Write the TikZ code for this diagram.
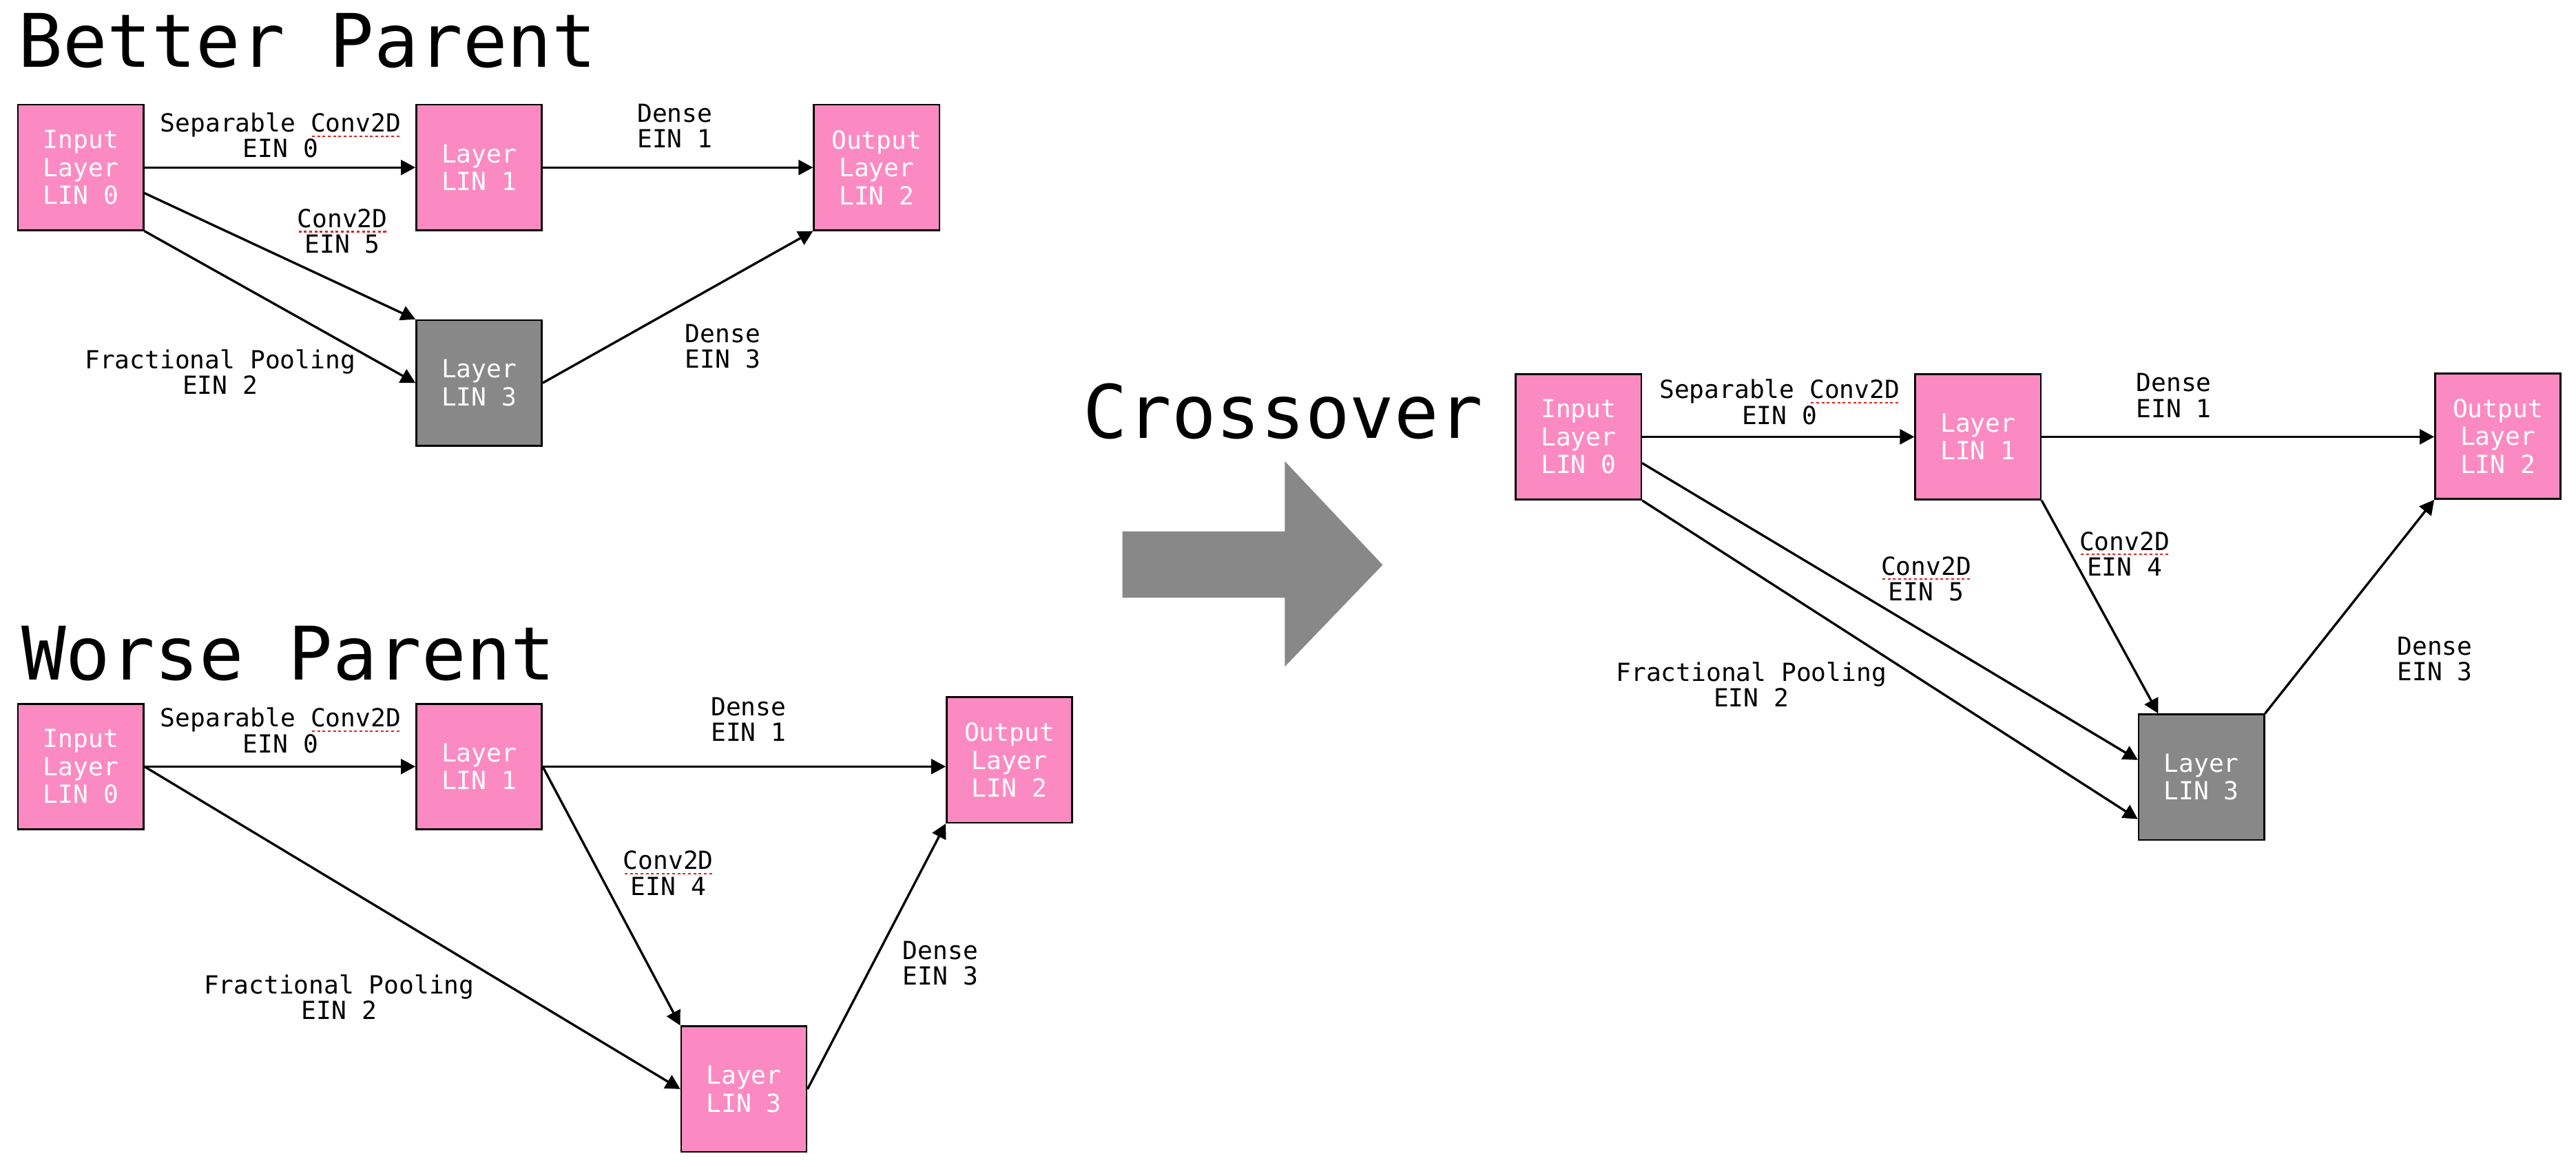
\documentclass[tikz,border=0pt]{standalone}
\usepackage{fontspec}
\setmainfont{DejaVu Sans Mono}
\usepackage{xcolor}
\usetikzlibrary{arrows.meta}
\definecolor{layerpink}{RGB}{252,138,194}
\definecolor{layergray}{RGB}{136,136,136}
\definecolor{spellred}{RGB}{228,32,32}
\newsavebox{\spellbox}
\newcommand{\spellcheck}[1]{\sbox{\spellbox}{#1}%
  \rlap{\raisebox{-2.2pt}{\textcolor{spellred}{\hbox to \wd\spellbox{\xleaders\hbox to 2.2pt{\hss\rule{1.2pt}{0.7pt}\hss}\hfill}}}}%
  \usebox{\spellbox}}
\tikzset{
    layer/.style={draw=black, line width=0.75pt, fill=layerpink, text=white, minimum width=1.91cm, minimum height=1.91cm, inner sep=0pt, align=center, font=\fontsize{10.8}{12.1}\selectfont},
    hidden/.style={layer, fill=layergray},
    lbl/.style={align=center, inner sep=0pt, font=\fontsize{10.8}{11.1}\selectfont},
    conn/.style={-{Triangle[length=6.3pt, width=6.5pt]}, line width=1pt},
    title/.style={anchor=base west, inner sep=0pt, font=\fontsize{32}{38}\selectfont}
}

\begin{document}
\begin{tikzpicture}
    \useasboundingbox (0,0) rectangle (39.20,17.76);

    % better parent
    \node [title] (bpTitle) at (0.27,16.74) {Better Parent};
    \node [layer] (bpIn) at (1.23,15.21) {Input\\Layer\\LIN 0};
    \node [layer] (bpL1) at (7.29,15.21) {Layer\\LIN 1};
    \node [layer] (bpOut) at (13.34,15.21) {Output\\Layer\\LIN 2};
    \node [hidden] (bpL3) at (7.29,11.93) {Layer\\LIN 3};

    \draw [conn] (bpIn.east) -- (bpL1.west);
    \draw [conn] (bpL1.east) -- (bpOut.west);
    \draw [conn] ([yshift=-0.39cm]bpIn.east) -- (bpL3.north west);
    \draw [conn] (bpIn.south east) -- (bpL3.west);
    \draw [conn] (bpL3.east) -- (bpOut.south west);

    \node [lbl] (bpE0) at (4.27,15.70) {Separable \spellcheck{Conv2D}\\EIN 0};
    \node [lbl] (bpE1) at (10.27,15.84) {Dense\\EIN 1};
    \node [lbl] (bpE5) at (5.21,14.24) {\spellcheck{Conv2D}\\EIN 5};
    \node [lbl] (bpE2) at (3.35,12.10) {Fractional Pooling\\EIN 2};
    \node [lbl] (bpE3) at (11.00,12.49) {Dense\\EIN 3};

    % worse parent
    \node [title] (wpTitle) at (0.32,7.41) {Worse Parent};
    \node [layer] (wpIn) at (1.23,6.09) {Input\\Layer\\LIN 0};
    \node [layer] (wpL1) at (7.29,6.09) {Layer\\LIN 1};
    \node [layer] (wpOut) at (15.36,6.19) {Output\\Layer\\LIN 2};
    \node [layer] (wpL3) at (11.32,1.18) {Layer\\LIN 3};

    \draw [conn] (wpIn.east) -- (wpL1.west);
    \draw [conn] (wpL1.east) -- (wpL1.east -| wpOut.west);
    \draw [conn] (wpIn.east) -- (wpL3.west);
    \draw [conn] (wpL1.east) -- (wpL3.north west);
    \draw [conn] (wpL3.east) -- (wpOut.south west);

    \node [lbl] (wpE0) at (4.27,6.64) {Separable \spellcheck{Conv2D}\\EIN 0};
    \node [lbl] (wpE1) at (11.39,6.81) {Dense\\EIN 1};
    \node [lbl] (wpE4) at (10.17,4.47) {\spellcheck{Conv2D}\\EIN 4};
    \node [lbl] (wpE2) at (5.16,2.58) {Fractional Pooling\\EIN 2};
    \node [lbl] (wpE3) at (14.31,3.10) {Dense\\EIN 3};

    % crossover
    \node [title] (cxTitle) at (16.47,11.09) {Crossover};
    \fill [layergray] (17.08,9.67) -- (19.55,9.67) -- (19.55,10.74) -- (21.04,9.16)
        -- (19.55,7.61) -- (19.55,8.66) -- (17.08,8.66) -- cycle;

    \node [layer] (cxIn) at (24.02,11.11) {Input\\Layer\\LIN 0};
    \node [layer] (cxL1) at (30.10,11.11) {Layer\\LIN 1};
    \node [hidden] (cxL3) at (33.50,5.93) {Layer\\LIN 3};
    \node [layer] (cxOut) at (38.01,11.12) {Output\\Layer\\LIN 2};

    \draw [conn] (cxIn.east) -- (cxL1.west);
    \draw [conn] (cxL1.east) -- (cxL1.east -| cxOut.west);
    \draw [conn] ([yshift=-0.40cm]cxIn.east) -- ([yshift=0.26cm]cxL3.west);
    \draw [conn] (cxIn.south east) -- ([yshift=-0.64cm]cxL3.west);
    \draw [conn] (cxL1.south east) -- ([xshift=0.31cm]cxL3.north west);
    \draw [conn] (cxL3.north east) -- (cxOut.south west);

    \node [lbl] (cxE0) at (27.08,11.64) {Separable \spellcheck{Conv2D}\\EIN 0};
    \node [lbl] (cxE1) at (33.08,11.74) {Dense\\EIN 1};
    \node [lbl] (cxE5) at (29.31,8.95) {\spellcheck{Conv2D}\\EIN 5};
    \node [lbl] (cxE4) at (32.33,9.33) {\spellcheck{Conv2D}\\EIN 4};
    \node [lbl] (cxE2) at (26.65,7.34) {Fractional Pooling\\EIN 2};
    \node [lbl] (cxE3) at (37.05,7.73) {Dense\\EIN 3};
\end{tikzpicture}
\end{document}
